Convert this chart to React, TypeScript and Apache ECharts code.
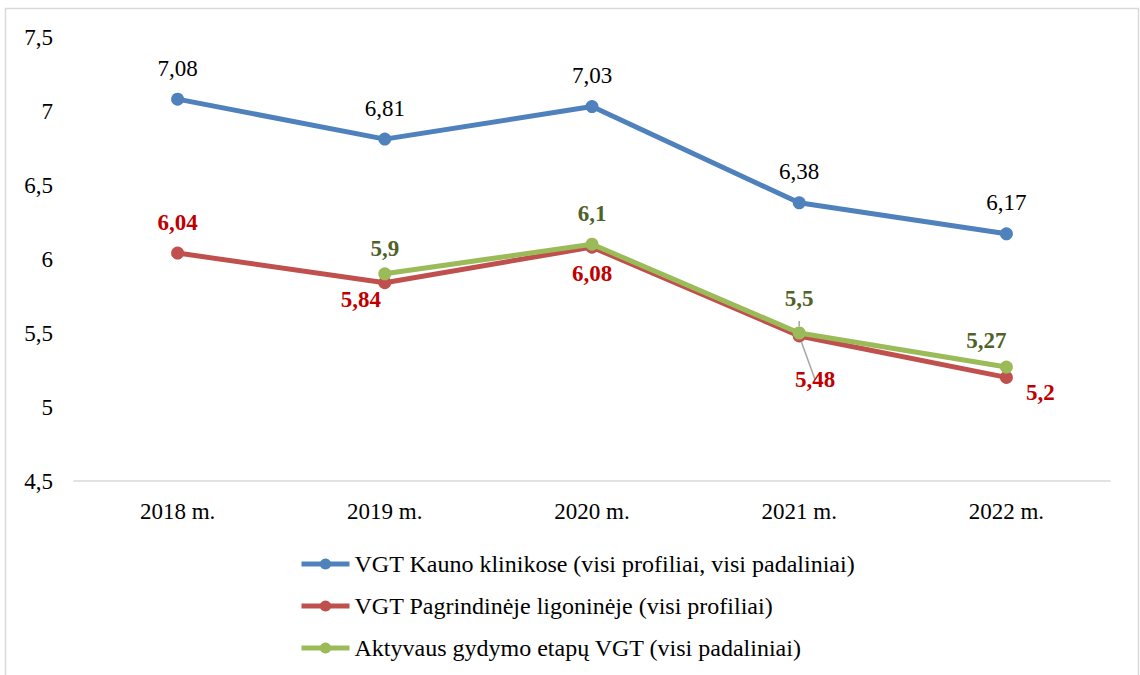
import React, { useEffect, useRef } from "react";
import * as echarts from "echarts";

const categories = ["2018 m.", "2019 m.", "2020 m.", "2021 m.", "2022 m."];
const seriesNames = [
  "VGT Kauno klinikose (visi profiliai, visi padaliniai)",
  "VGT Pagrindinėje ligoninėje (visi profiliai)",
  "Aktyvaus gydymo etapų VGT (visi padaliniai)",
];
const kaunoValues = [7.08, 6.81, 7.03, 6.38, 6.17];
const pagrindineValues = [6.04, 5.84, 6.08, 5.48, 5.2];
const aktyvausValues: (number | null)[] = [null, 5.9, 6.1, 5.5, 5.27];
const yTicks = { min: 4.5, max: 7.5, interval: 0.5 };

const FONT = "Liberation Serif";
const FS = 23;
const comma = (v: number) => String(v).replace(".", ",");

export default function App() {
  const ref = useRef<HTMLDivElement>(null);
  useEffect(() => {
    if (!ref.current) return;
    const chart = echarts.init(ref.current, null, { renderer: "svg" });

    const redLabelPos: any[] = [
      { position: "top", offset: [0, 0] },
      { position: "bottom", offset: [-24, -14] },
      { position: "bottom", offset: [0, -5] },
      { position: "bottom", offset: [16, 13] },
      { position: "right", offset: [0, 15] },
    ];
    const greenLabelPos: any[] = [
      null,
      { position: "top", offset: [0, 6] },
      { position: "top", offset: [0, 0] },
      { position: "top", offset: [0, -4] },
      { position: "top", offset: [-20, 4] },
    ];
    const leader = { show: true, lineStyle: { color: "#A6A6A6", width: 1.5 } };

    chart.setOption({
      animation: false,
      backgroundColor: "#ffffff",
      textStyle: { fontFamily: FONT },
      graphic: [
        {
          type: "rect",
          shape: { x: 5.5, y: 8.5, width: 1133, height: 700 },
          style: { fill: "none", stroke: "#D9D9D9", lineWidth: 1.5 },
          silent: true,
          z: -10,
        },
      ],
      grid: { left: 74, right: 30, top: 37, bottom: 194, containLabel: false },
      legend: {
        orient: "vertical",
        left: 294,
        top: 547,
        itemGap: 18,
        itemWidth: 48,
        itemHeight: 14,
        lineStyle: { width: 5 },
        textStyle: { fontFamily: FONT, fontSize: 24, color: "#000" },
        data: seriesNames,
      },
      xAxis: {
        type: "category",
        data: categories,
        axisLine: { show: true, lineStyle: { color: "#D9D9D9", width: 1.5 } },
        axisTick: { show: false },
        axisLabel: { fontFamily: FONT, fontSize: FS, color: "#000", margin: 19 },
        splitLine: { show: false },
      },
      yAxis: {
        type: "value",
        min: yTicks.min,
        max: yTicks.max,
        interval: yTicks.interval,
        axisLine: { show: false },
        axisTick: { show: false },
        splitLine: { show: false },
        axisLabel: {
          fontFamily: FONT,
          fontSize: FS,
          color: "#000",
          margin: 21,
          formatter: (v: number) => comma(v),
        },
      },
      series: [
        {
          name: seriesNames[0],
          type: "line",
          data: kaunoValues,
          symbol: "circle",
          symbolSize: 13,
          lineStyle: { width: 5, color: "#4F81BD" },
          itemStyle: { color: "#4F81BD" },
          label: {
            show: true,
            position: "top",
            distance: 13,
            fontFamily: FONT,
            fontSize: FS,
            color: "#000",
            formatter: (p: any) => comma(p.value),
          },
          z: 2,
        },
        {
          name: seriesNames[1],
          type: "line",
          data: pagrindineValues.map((v, i) => ({
            value: v,
            label: redLabelPos[i],
            labelLine: i === 3 ? leader : undefined,
          })),
          symbol: "circle",
          symbolSize: 13,
          lineStyle: { width: 5, color: "#C0504D" },
          itemStyle: { color: "#C0504D" },
          label: {
            show: true,
            distance: 13,
            fontFamily: FONT,
            fontSize: FS,
            fontWeight: "bold",
            color: "#C00000",
            formatter: (p: any) => comma(p.value),
          },
          z: 3,
        },
        {
          name: seriesNames[2],
          type: "line",
          data: aktyvausValues.map((v, i) => ({
            value: v,
            label: greenLabelPos[i] || undefined,
            labelLine: i === 3 ? leader : undefined,
          })),
          symbol: "circle",
          symbolSize: 13,
          connectNulls: false,
          lineStyle: { width: 5, color: "#9BBB59" },
          itemStyle: { color: "#9BBB59" },
          label: {
            show: true,
            distance: 13,
            fontFamily: FONT,
            fontSize: FS,
            fontWeight: "bold",
            color: "#4F6228",
            formatter: (p: any) => comma(p.value),
          },
          z: 4,
        },
      ],
    });
    return () => chart.dispose();
  }, []);
  return (
    <div
      ref={ref}
      style={{ position: "absolute", left: 0, top: 0, width: 1140, height: 675 }}
    />
  );
}
